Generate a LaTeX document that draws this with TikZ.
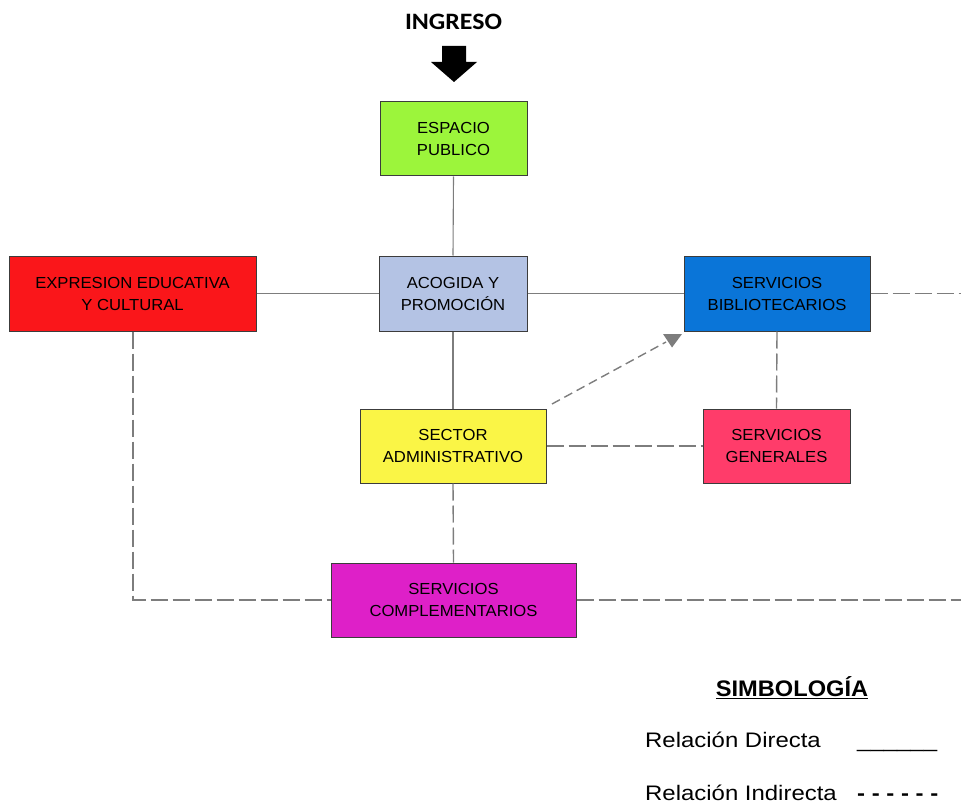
\documentclass[tikz,border=0pt]{standalone}
\usepackage{fontspec}
\setmainfont{Liberation Sans}
\newfontfamily\boxfont[FakeStretch=1.04]{Liberation Sans}
\newfontfamily\ingfont[FakeStretch=1.1]{Carlito}
\newfontfamily\legfont[FakeStretch=1.14]{Liberation Sans}
\newfontfamily\simfont[FakeStretch=1.05]{Liberation Sans}
\definecolor{cgreen}{RGB}{156,245,59}
\definecolor{cred}{RGB}{250,22,26}
\definecolor{cblue}{RGB}{180,195,228}
\definecolor{cbib}{RGB}{10,117,216}
\definecolor{cyel}{RGB}{250,245,70}
\definecolor{cpink}{RGB}{255,60,106}
\definecolor{cmag}{RGB}{222,32,200}
\definecolor{lgray}{RGB}{125,125,125}
\definecolor{bordr}{RGB}{60,60,60}
\begin{document}
\begin{tikzpicture}[x=1pt,y=-1pt,
  area/.style={draw=bordr,line width=1pt,inner sep=0pt,align=center,
    font=\boxfont\fontsize{16}{22}\selectfont},
  direct/.style={draw=lgray,line width=1.1pt},
  indirect/.style={draw=lgray,line width=1.4pt,dash pattern=on 17pt off 5pt},
  legtext/.style={font=\legfont\fontsize{21}{24}\selectfont,inner sep=0pt,anchor=base west}]
\useasboundingbox (0,0) rectangle (961,805);
% boxes
\node[area,fill=cgreen,minimum width=147pt,minimum height=74pt] (esp) at (453.5,139) {ESPACIO\\PUBLICO};
\node[area,fill=cblue,minimum width=148pt,minimum height=75pt] (aco) at (453,293.5) {ACOGIDA Y\\PROMOCIÓN};
\node[area,fill=cred,minimum width=247pt,minimum height=75pt] (exp) at (132.5,293.5) {EXPRESION EDUCATIVA\\Y CULTURAL};
\node[area,fill=cbib,minimum width=186pt,minimum height=75pt] (bib) at (777,293.5) {SERVICIOS\\BIBLIOTECARIOS};
\node[area,fill=cyel,minimum width=186pt,minimum height=74pt] (sec) at (453,446) {SECTOR\\ADMINISTRATIVO};
\node[area,fill=cpink,minimum width=147pt,minimum height=74pt] (gen) at (776.5,446) {SERVICIOS\\GENERALES};
\node[area,fill=cmag,minimum width=245pt,minimum height=74pt] (com) at (453.5,600) {SERVICIOS\\COMPLEMENTARIOS};
% title and entry arrow
\node[font=\ingfont\bfseries\fontsize{23.5}{26}\selectfont,inner sep=0pt] (ing) at (453.5,22) {INGRESO};
\fill[black] (442,46) -- (466,46) -- (466,62) -- (477,62) -- (454,82) -- (431,62) -- (442,62) -- cycle;
% coordinates
\coordinate (bibR) at (961,293.5);
\coordinate (comR) at (961,600);
\coordinate (expC) at (133,600);
\coordinate (arS) at (552,404);
\coordinate (arE) at (666,342);
% direct relations
\draw[direct] (esp.south) -- (aco.north);
\draw[direct] (exp.east) -- (aco.west);
\draw[direct] (aco.east) -- (bib.west);
\draw[direct] (aco.south) -- (sec.north);
% indirect relations
\draw[indirect] (bib.east) -- (bibR);
\draw[indirect] (bib.south) -- (gen.north);
\draw[indirect] (sec.east) -- (gen.west);
\draw[indirect] (sec.south) -- (com.north);
\draw[indirect] (exp.south -| expC) -- (expC) -- (com.west);
\draw[indirect] (com.east) -- (comR);
\draw[lgray,line width=1.4pt,dash pattern=on 9pt off 5pt] (arS) -- (arE);
\fill[lgray] (663,334) -- (682,334) -- (672,347.5) -- cycle;
% legend
\node[font=\simfont\bfseries\fontsize{22.5}{26}\selectfont,inner sep=0pt] (sim) at (792,688) {\underline{SIMBOLOGÍA}};
\node[legtext] (rd) at (645,747) {Relación Directa};
\node[legtext] (rdl) at (857,747) {\_\_\_\_\_\_};
\node[legtext] (ri) at (645,800) {Relación Indirecta};
\node[legtext] (ril) at (857,800) {\bfseries - - - - - -};
\end{tikzpicture}
\end{document}
